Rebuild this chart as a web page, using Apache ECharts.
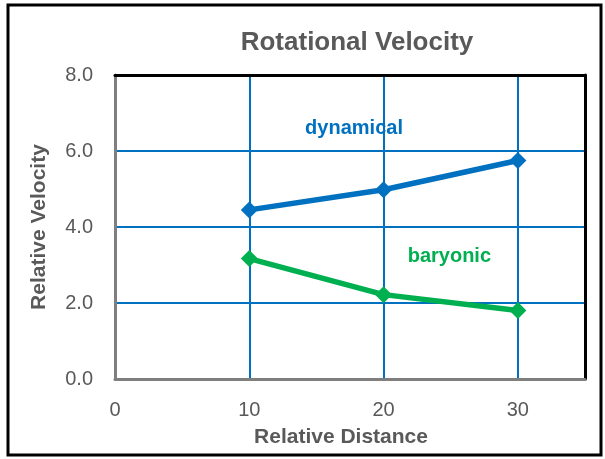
<!DOCTYPE html>
<html>
<head>
<meta charset="utf-8">
<script src="https://cdn.jsdelivr.net/npm/echarts@6/dist/echarts.min.js"></script>
<style>html,body{margin:0;padding:0;background:#fff}#chart{width:605px;height:459px}</style>
</head>
<body>
<div id="chart"></div>
<script>
var distance = [10, 20, 30];
var dynamical = [4.45, 4.98, 5.75];
var baryonic = [3.17, 2.22, 1.8];
var seriesNames = ['dynamical', 'baryonic'];
var labelPos = [[17.8, 6.6], [24.9, 3.22]];
var colors = ['#0070c0', '#00b050'];

function pairs(ys) {
    return distance.map(function (x, i) { return [x, ys[i]]; });
}

var blueGrid = { lineStyle: { color: '#0070c0', width: 2 } };

var option = {
    animation: false,
    title: {
        text: 'Rotational Velocity',
        left: 352,
        top: 25,
        textAlign: 'center',
        textStyle: { fontFamily: 'Liberation Sans', fontSize: 26, fontWeight: 'bold', color: '#595959' }
    },
    graphic: [{
        type: 'rect',
        shape: { x: 8, y: 5, width: 593, height: 450 },
        style: { fill: null, stroke: '#000', lineWidth: 3 },
        z: 10
    }],
    grid: { left: 115, right: 20, top: 75, bottom: 80 },
    xAxis: [{
        type: 'value', min: 0, max: 35, interval: 10,
        name: 'Relative Distance', nameLocation: 'middle', nameGap: 48,
        nameTextStyle: { fontFamily: 'Liberation Sans', fontSize: 21, fontWeight: 'bold', color: '#595959', padding: [0, 18, 0, 0] },
        axisLine: { show: true, onZero: false, lineStyle: { color: '#7f7f7f', width: 3 } },
        axisTick: { show: false },
        axisLabel: {
            fontFamily: 'Liberation Sans', fontSize: 20, color: '#595959', margin: 21,
            formatter: function (v) { return v > 30 ? '' : String(v); }
        },
        splitLine: blueGrid,
        z: 3
    }, {
        type: 'value', min: 0, max: 35, position: 'top',
        axisLine: { show: true, onZero: false, lineStyle: { color: '#000', width: 3 } },
        axisTick: { show: false }, axisLabel: { show: false }, splitLine: { show: false },
        z: 3
    }],
    yAxis: [{
        type: 'value', min: 0, max: 8, interval: 2,
        name: 'Relative Velocity', nameLocation: 'middle', nameGap: 65,
        nameTextStyle: { fontFamily: 'Liberation Sans', fontSize: 21, fontWeight: 'bold', color: '#595959' },
        axisLine: { show: true, lineStyle: { color: '#7f7f7f', width: 3 } },
        axisTick: { show: false },
        axisLabel: {
            fontFamily: 'Liberation Sans', fontSize: 20, color: '#595959', margin: 22,
            formatter: function (v) { return v.toFixed(1); }
        },
        splitLine: blueGrid,
        z: 3
    }, {
        type: 'value', min: 0, max: 8, position: 'right',
        axisLine: { show: true, onZero: false, lineStyle: { color: '#000', width: 3 } },
        axisTick: { show: false }, axisLabel: { show: false }, splitLine: { show: false },
        z: 3
    }],
    series: [dynamical, baryonic].map(function (ys, i) {
        return {
            name: seriesNames[i],
            type: 'line',
            data: pairs(ys),
            symbol: 'diamond',
            symbolSize: 17,
            lineStyle: { color: colors[i], width: 5.5 },
            itemStyle: { color: colors[i] },
            markPoint: {
                symbol: 'rect', symbolSize: 1,
                itemStyle: { color: 'transparent' },
                label: {
                    show: true, position: 'inside', formatter: seriesNames[i],
                    fontFamily: 'Liberation Sans', fontSize: 20, fontWeight: 'bold', color: colors[i]
                },
                data: [{ coord: labelPos[i] }]
            }
        };
    })
};

var myChart = echarts.init(document.getElementById('chart'));
myChart.setOption(option);
</script>
</body>
</html>
